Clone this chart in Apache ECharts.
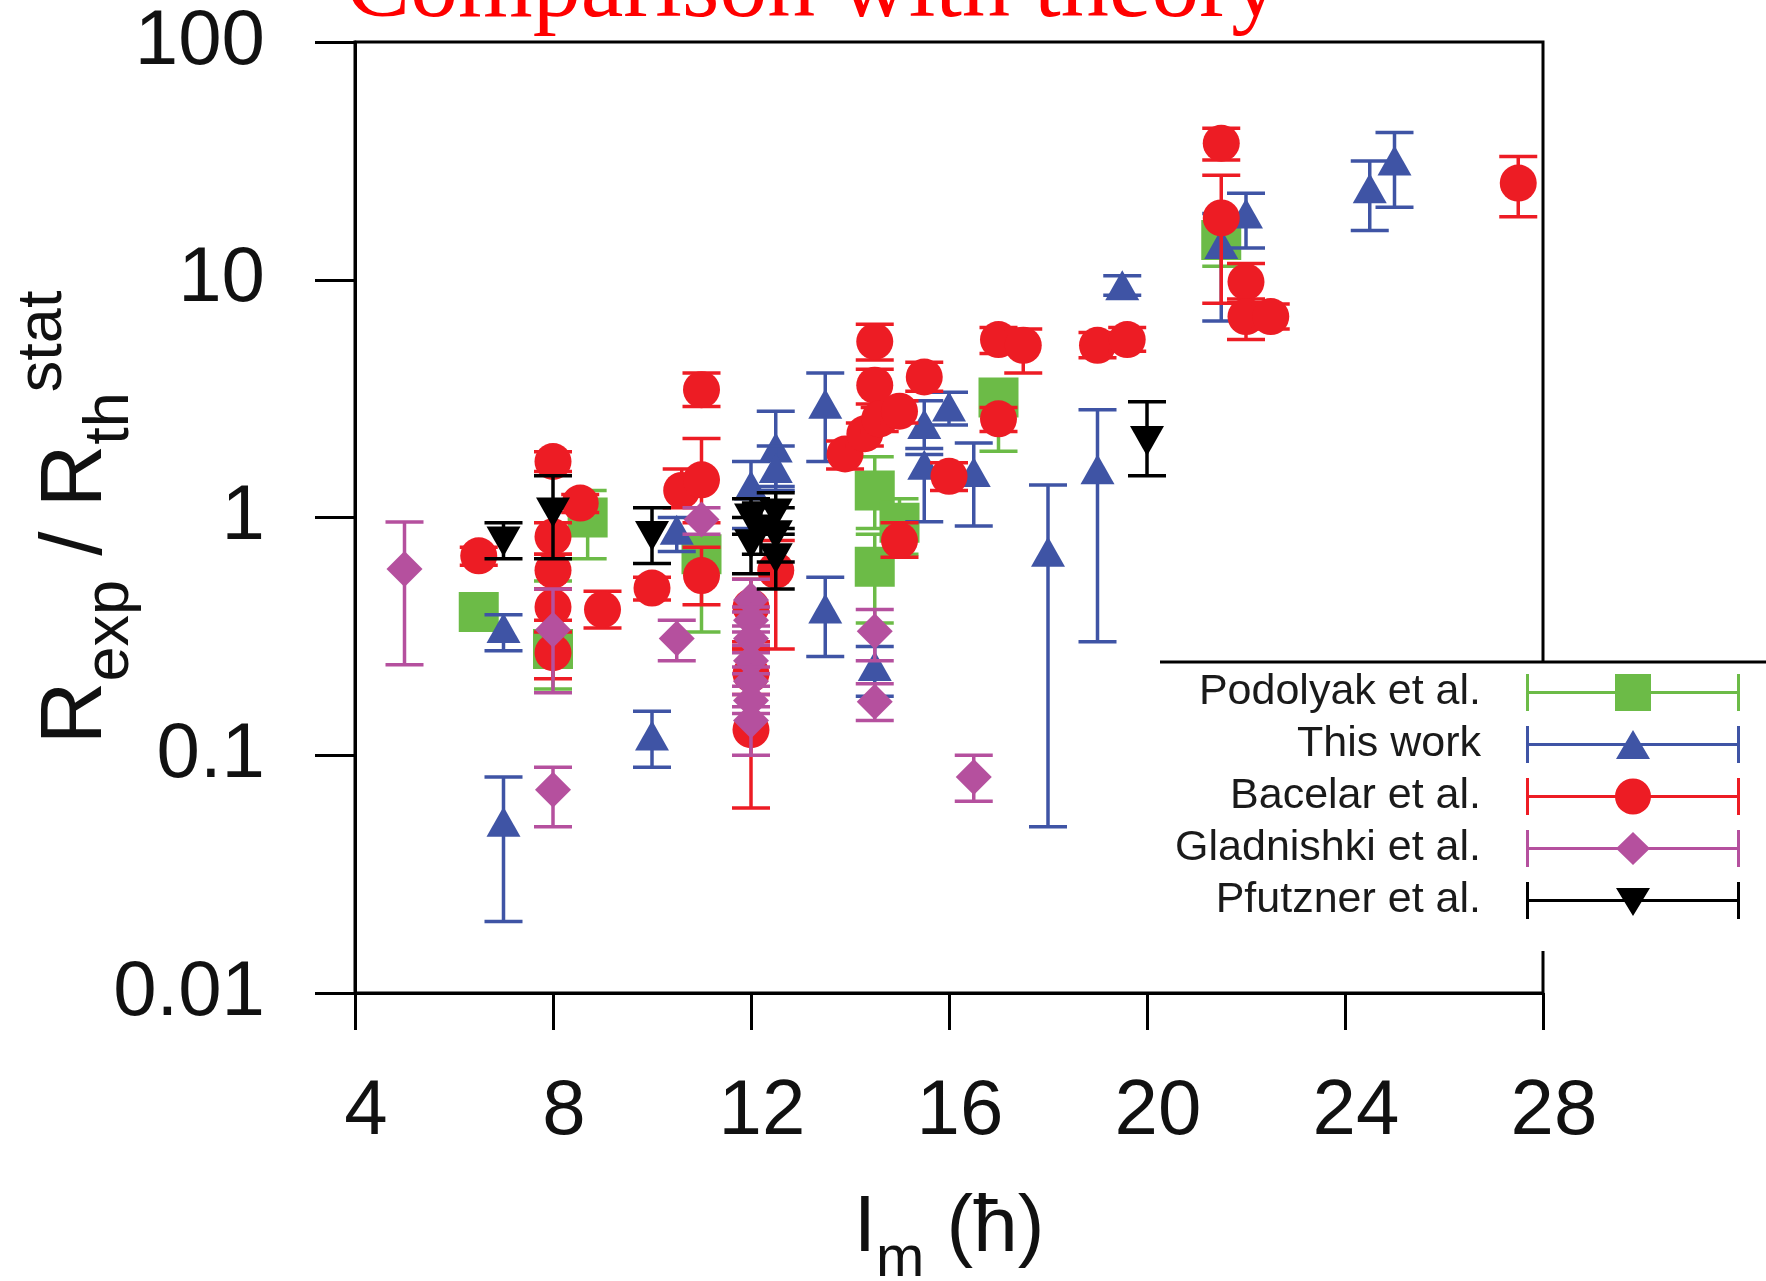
<!DOCTYPE html>
<html><head><meta charset="utf-8">
<script src="https://cdn.jsdelivr.net/npm/echarts@6/dist/echarts.min.js"></script>
<style>html,body{margin:0;padding:0;background:#fff}#c{width:1766px;height:1281px}</style>
</head><body><div id="c"></div>
<script>
// ---- data: [I_m, R_exp/R_th, lower error, upper error] ----
const seriesNames = ['Podolyak et al.', 'This work', 'Bacelar et al.', 'Gladnishki et al.', 'Pfutzner et al.'];
const xTicks = [4, 8, 12, 16, 20, 24, 28];
const yTickLabels = ['0.01', '0.1', '1', '10', '100'];

const podolyakData = [
  [6.5, 0.40, 0.37, 0.43],
  [8.0, 0.28, 0.19, 0.54],
  [8.7, 1.00, 0.67, 1.30],
  [11.0, 0.70, 0.33, 0.80],
  [14.5, 1.30, 0.90, 1.80],
  [14.5, 0.62, 0.36, 0.85],
  [15.0, 0.95, 0.70, 1.20],
  [17.0, 3.2, 1.9, 3.8],
  [21.5, 14.7, 11.4, 17.0]
];
const thisWorkData = [
  [7.0, 0.34, 0.275, 0.39],
  [7.0, 0.052, 0.020, 0.081],
  [10.0, 0.12, 0.089, 0.153],
  [10.5, 0.88, 0.72, 1.0],
  [12.0, 1.35, 0.90, 1.72],
  [12.5, 1.95, 1.35, 2.8],
  [12.5, 1.6, 1.3, 2.0],
  [13.5, 2.98, 1.72, 4.05],
  [13.5, 0.41, 0.26, 0.56],
  [14.5, 0.235, 0.177, 0.287],
  [15.5, 2.45, 1.95, 3.1],
  [15.5, 1.65, 0.96, 1.84],
  [16.0, 2.9, 2.45, 3.36],
  [16.5, 1.54, 0.92, 2.06],
  [18.0, 0.71, 0.05, 1.37],
  [19.0, 1.58, 0.30, 2.84],
  [19.5, 9.4, 8.6, 10.4],
  [21.5, 14.0, 6.7, 19.0],
  [22.0, 18.8, 13.6, 23.1],
  [24.5, 24.0, 16.1, 31.6],
  [25.0, 31.4, 20.2, 41.6]
];
const bacelarData = [
  [6.5, 0.69, 0.63, 0.75],
  [8.0, 1.72, 1.56, 1.89],
  [8.0, 0.83, 0.70, 0.95],
  [8.0, 0.60, 0.50, 0.70],
  [8.0, 0.42, 0.37, 0.50],
  [8.0, 0.27, 0.21, 0.33],
  [8.55, 1.15, 1.05, 1.25],
  [9.0, 0.41, 0.343, 0.49],
  [10.0, 0.505, 0.45, 0.56],
  [10.6, 1.30, 1.10, 1.60],
  [11.0, 3.45, 2.93, 4.05],
  [11.0, 1.44, 0.95, 2.15],
  [11.0, 0.57, 0.43, 0.75],
  [12.0, 0.42, 0.30, 0.55],
  [12.0, 0.22, 0.18, 0.28],
  [12.0, 0.128, 0.06, 0.28],
  [12.5, 0.60, 0.28, 0.80],
  [13.9, 1.85, 1.60, 2.10],
  [14.3, 2.25, 2.00, 2.50],
  [14.5, 5.5, 4.6, 6.5],
  [14.5, 3.6, 3.0, 4.2],
  [14.6, 2.6, 2.3, 2.9],
  [15.0, 2.8, 2.5, 3.1],
  [15.0, 0.80, 0.68, 0.95],
  [15.5, 3.9, 3.4, 4.5],
  [16.0, 1.49, 1.30, 1.70],
  [17.0, 2.6, 2.3, 2.9],
  [17.0, 5.6, 4.9, 6.3],
  [17.5, 5.3, 4.05, 6.2],
  [19.0, 5.3, 4.7, 6.0],
  [19.6, 5.6, 5.0, 6.3],
  [21.5, 37.5, 31.9, 43.4],
  [21.5, 18.2, 7.96, 27.5],
  [22.0, 9.8, 8.3, 11.7],
  [22.0, 7.0, 5.6, 8.0],
  [22.5, 7.0, 6.2, 7.9],
  [27.5, 25.5, 18.4, 33.0]
];
const gladnishkiData = [
  [5.0, 0.607, 0.24, 0.957],
  [8.0, 0.337, 0.183, 0.50],
  [8.0, 0.0716, 0.050, 0.089],
  [10.5, 0.31, 0.25, 0.37],
  [11.0, 0.98, 0.85, 1.10],
  [12.0, 0.45, 0.40, 0.55],
  [12.0, 0.37, 0.33, 0.42],
  [12.0, 0.31, 0.27, 0.35],
  [12.0, 0.25, 0.22, 0.29],
  [12.0, 0.205, 0.18, 0.235],
  [12.0, 0.17, 0.15, 0.195],
  [12.0, 0.14, 0.10, 0.16],
  [14.5, 0.332, 0.25, 0.41],
  [14.5, 0.168, 0.14, 0.20],
  [16.5, 0.081, 0.064, 0.10]
];
const pfutznerData = [
  [7.0, 0.80, 0.67, 0.95],
  [8.0, 1.06, 0.67, 1.50],
  [10.0, 0.845, 0.64, 1.10],
  [12.0, 1.00, 0.85, 1.20],
  [12.0, 0.78, 0.58, 1.00],
  [12.2, 0.90, 0.70, 1.15],
  [12.5, 1.05, 0.85, 1.27],
  [12.5, 0.85, 0.65, 1.10],
  [12.5, 0.68, 0.50, 0.90],
  [20.0, 2.12, 1.50, 3.07]
];

// ---- styles ----
const seriesColors = ['#6cbb47', '#3f54a5', '#ed1c24', '#b5509e', '#000000'];
const seriesShapes = ['square', 'triangle', 'circle', 'diamond', 'invTriangle'];
const allData = [podolyakData, thisWorkData, bacelarData, gladnishkiData, pfutznerData];
const legendIcons = [
  'path://M0 0L3 0L3 37L0 37ZM211 0L214 0L214 37L211 37ZM0 17L214 17L214 20L0 20ZM89 0L125 0L125 37L89 37Z',
  'path://M0 0L3 0L3 37L0 37ZM211 0L214 0L214 37L211 37ZM0 17L214 17L214 20L0 20ZM107 4L124 33L90 33Z',
  'path://M0 0L3 0L3 37L0 37ZM211 0L214 0L214 37L211 37ZM0 17L214 17L214 20L0 20ZM89 18.5A18 18 0 1 1 125 18.5A18 18 0 1 1 89 18.5Z',
  'path://M0 0L3 0L3 37L0 37ZM211 0L214 0L214 37L211 37ZM0 17L214 17L214 20L0 20ZM107 2L124 18.5L107 35L90 18.5Z',
  'path://M0 0L3 0L3 37L0 37ZM211 0L214 0L214 37L211 37ZM0 17L214 17L214 20L0 20ZM90 6L124 6L107 34Z'
];
const SANS = "'Liberation Sans', Arial, Helvetica, sans-serif";

function marker(shape, x, y, color) {
  const st = { fill: color };
  if (shape === 'square') return { type: 'rect', shape: { x: x - 20, y: y - 20, width: 40, height: 40 }, style: st };
  if (shape === 'circle') return { type: 'circle', shape: { cx: x, cy: y, r: 18.5 }, style: st };
  if (shape === 'triangle') return { type: 'polygon', shape: { points: [[x, y - 16], [x + 17, y + 14], [x - 17, y + 14]] }, style: st };
  if (shape === 'diamond') return { type: 'polygon', shape: { points: [[x, y - 18], [x + 18, y], [x, y + 18], [x - 18, y]] }, style: st };
  return { type: 'polygon', shape: { points: [[x - 17, y - 14], [x + 17, y - 14], [x, y + 16]] }, style: st };
}
function makeRender(shape, color) {
  return function (params, api) {
    const x = api.value(0), y = api.value(1), lo = api.value(2), hi = api.value(3);
    const c = api.coord([x, y]);
    const cl = api.coord([x, lo]);
    const ch = api.coord([x, hi]);
    const hw = 19;
    const st = { stroke: color, lineWidth: 3.5, fill: null };
    return {
      type: 'group',
      children: [
        { type: 'line', shape: { x1: c[0], y1: cl[1], x2: c[0], y2: ch[1] }, style: st },
        { type: 'line', shape: { x1: c[0] - hw, y1: cl[1], x2: c[0] + hw, y2: cl[1] }, style: st },
        { type: 'line', shape: { x1: c[0] - hw, y1: ch[1], x2: c[0] + hw, y2: ch[1] }, style: st },
        marker(shape, c[0], c[1], color)
      ]
    };
  };
}

const chart = echarts.init(document.getElementById('c'), null, { renderer: 'canvas' });
const richX = {
  r: { fontSize: 80, lineHeight: 120, fontFamily: SANS, color: '#111' },
  sb: { fontSize: 58, lineHeight: 58, verticalAlign: 'bottom', fontFamily: SANS, color: '#111' }
};
const richY = {
  r: { fontSize: 87, lineHeight: 130, fontFamily: SANS, color: '#111' },
  sb: { fontSize: 63, lineHeight: 63, verticalAlign: 'bottom', fontFamily: SANS, color: '#111' },
  sp: { fontSize: 63, lineHeight: 63, verticalAlign: 'top', fontFamily: SANS, color: '#111' }
};
chart.setOption({
  animation: false,
  backgroundColor: '#fff',
  title: {
    text: 'Comparison with theory', left: 346, top: -57, padding: 0,
    textStyle: { fontFamily: "'Liberation Serif', 'Times New Roman', serif", fontSize: 96, fontWeight: 'normal', color: '#ff0000' }
  },
  grid: { left: 355, right: 223, top: 42, bottom: 288, show: true, borderColor: '#000', borderWidth: 3, outerBoundsMode: 'none' },
  xAxis: {
    type: 'value', min: xTicks[0], max: xTicks[xTicks.length - 1], interval: 4,
    axisLine: { lineStyle: { color: '#000', width: 3 } },
    axisTick: { inside: false, length: 37, lineStyle: { color: '#000', width: 3 } },
    axisLabel: { margin: 80, fontSize: 78, fontFamily: SANS, color: '#111', padding: [0, 0, 0, 22] },
    splitLine: { show: false },
    name: '{r|I}{sb|m}{r| (ħ)}', nameLocation: 'middle', nameGap: 176, nameMoveOverlap: false,
    nameTextStyle: { rich: richX }
  },
  yAxis: {
    type: 'log', logBase: 10, min: 0.01, max: 100,
    axisLine: { lineStyle: { color: '#000', width: 3 } },
    axisTick: { inside: false, length: 40, lineStyle: { color: '#000', width: 3 } },
    minorTick: { show: false },
    axisLabel: {
      margin: 90, fontSize: 78, fontFamily: SANS, color: '#111',
      formatter: function (v) { return yTickLabels[Math.round(Math.log10(v)) + 2]; }
    },
    splitLine: { show: false },
    name: '{r|R}{sb|exp}{r| / R}{sb|th}{sp|stat}', nameLocation: 'middle', nameRotate: 90, nameGap: 213, nameMoveOverlap: false,
    nameTextStyle: { rich: richY }
  },
  legend: {
    orient: 'vertical', right: 0, top: 662, padding: [9, 26, 29, 20], backgroundColor: '#fff',
    align: 'right', itemWidth: 214, itemHeight: 37, itemGap: 9, selectedMode: false, z: 20,
    textStyle: { fontFamily: SANS, fontSize: 43, color: '#1a1a1a', padding: [0, 40, 0, 0] },
    data: seriesNames.map((n, i) => ({ name: n, icon: legendIcons[i], itemStyle: { color: seriesColors[i], borderWidth: 0 } }))
  },
  graphic: [{
    type: 'line', z: 30, shape: { x1: 1160, y1: 662, x2: 1766, y2: 662 }, style: { stroke: '#000', lineWidth: 3 }
  }],
  series: seriesNames.map((n, i) => ({
    type: 'custom', name: n,
    dimensions: ['I', 'R', 'lo', 'hi'],
    encode: { x: 0, y: 1 },
    itemStyle: { color: seriesColors[i] },
    renderItem: makeRender(seriesShapes[i], seriesColors[i]),
    data: allData[i],
    clip: false
  }))
});
</script></body></html>
